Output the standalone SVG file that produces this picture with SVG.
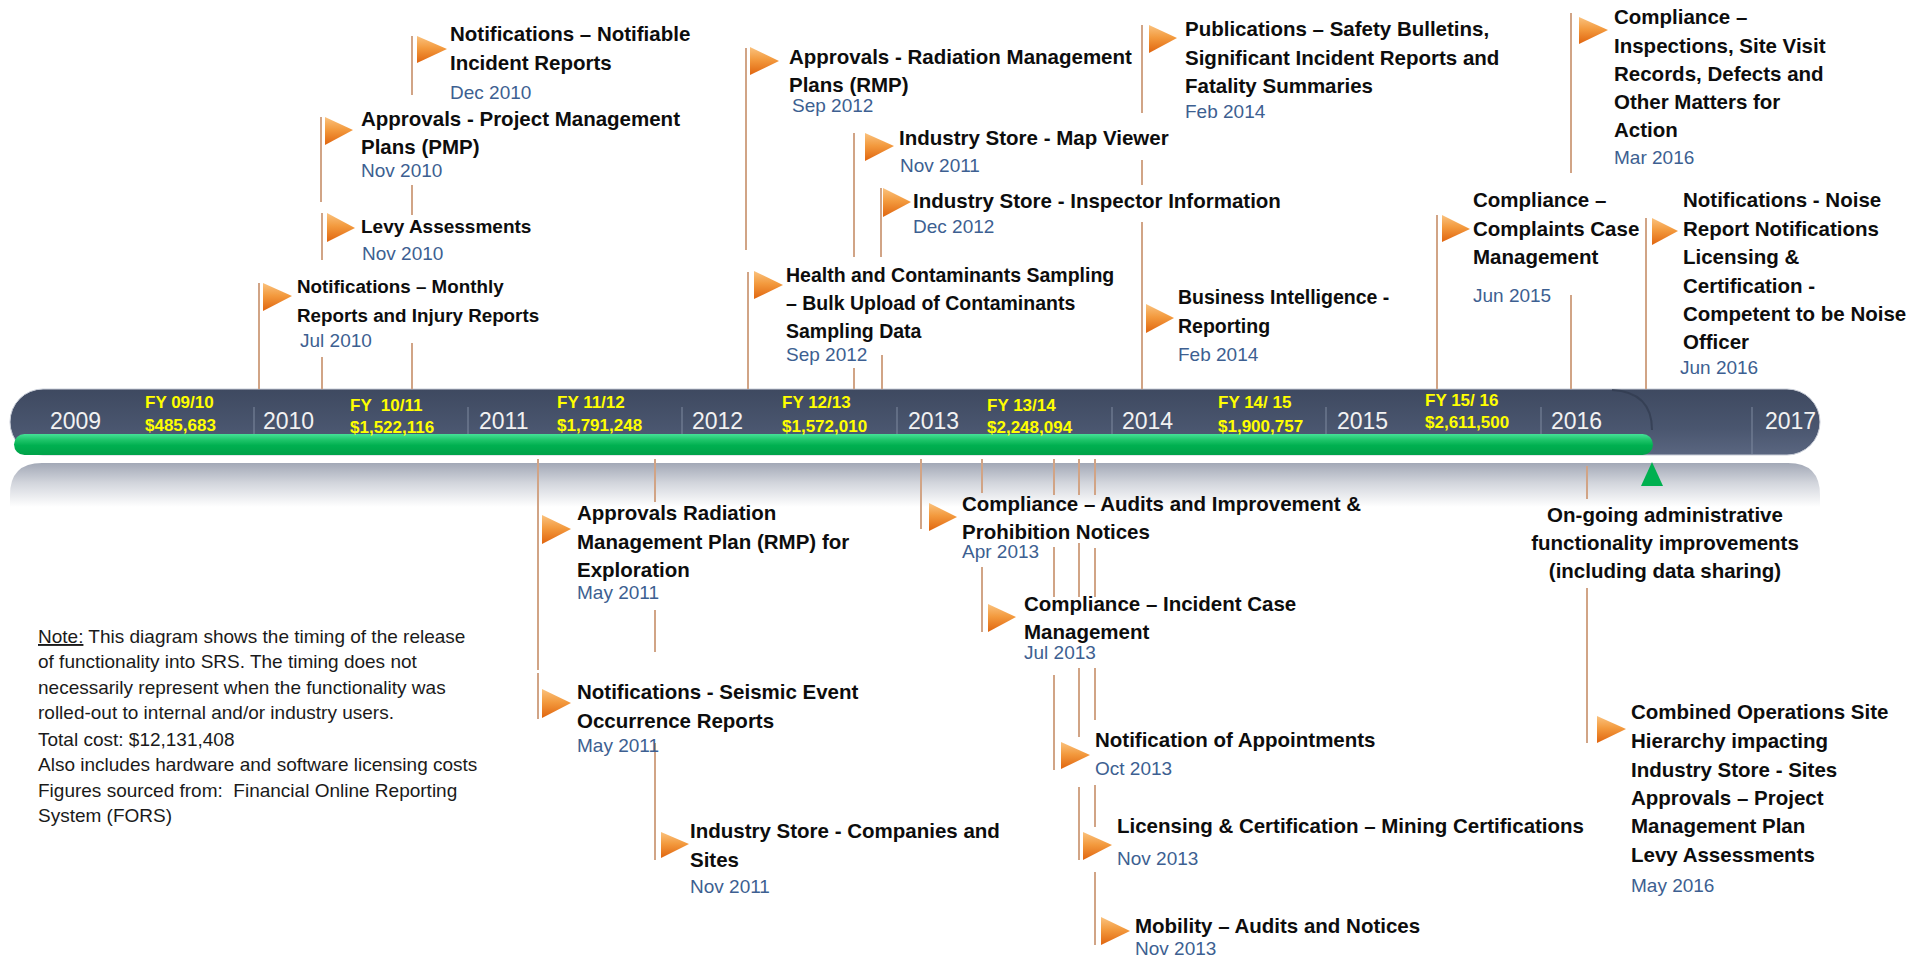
<svg xmlns="http://www.w3.org/2000/svg" width="1928" height="958" viewBox="0 0 1928 958">
<style>
.lbl{font-family:"Liberation Sans",Arial,sans-serif;font-weight:bold;font-size:20.5px;fill:#0D0D0D}
.dt{font-family:"Liberation Sans",Arial,sans-serif;font-size:19px;fill:#3D5F91}
.yr{font-family:"Liberation Sans",Arial,sans-serif;font-size:23px;fill:#F2F2F2}
.fy{font-family:"Liberation Sans",Arial,sans-serif;font-weight:bold;font-size:17px;fill:#FFFF00}
.note{font-family:"Liberation Sans",Arial,sans-serif;font-size:19px;fill:#1A1A1A}
.pole{stroke:#D1A486;stroke-width:2;fill:none}
.div{stroke:#7F8AA0;stroke-width:1}
.flag{fill:url(#flagG)}
</style>
<defs>
<linearGradient id="barG" x1="0" y1="0" x2="0" y2="1"><stop offset="0" stop-color="#3E4960"/><stop offset="0.6" stop-color="#4A566F"/><stop offset="1" stop-color="#5A6680"/></linearGradient>
<linearGradient id="greenG" x1="0" y1="0" x2="0" y2="1"><stop offset="0" stop-color="#45E297"/><stop offset="0.3" stop-color="#1CC368"/><stop offset="0.55" stop-color="#00B050"/><stop offset="1" stop-color="#00A249"/></linearGradient>
<linearGradient id="reflG" x1="0" y1="0" x2="0" y2="1"><stop offset="0" stop-color="#A2A8B6"/><stop offset="0.45" stop-color="#D2D5DC"/><stop offset="1" stop-color="#FFFFFF"/></linearGradient>
<linearGradient id="flagG" x1="0" y1="0" x2="0" y2="1"><stop offset="0" stop-color="#FAC27E"/><stop offset="0.45" stop-color="#F39A3E"/><stop offset="1" stop-color="#E0650F"/></linearGradient>
</defs>
<rect width="1928" height="958" fill="#FFFFFF"/>

<g id="timeline">
<path d="M10,507 V495 Q10,463 42,463 H1788 Q1820,463 1820,495 V507 Z" fill="url(#reflG)"/>
<rect x="10" y="389" width="1810" height="66" rx="33" fill="url(#barG)" stroke="#C9CED8" stroke-width="1"/>
<path d="M1612,390 Q1652,392 1652,430" fill="none" stroke="#313B4F" stroke-width="2" opacity="0.7"/>
<line class="div" x1="254" y1="407" x2="254" y2="454"/>
<line class="div" x1="468" y1="407" x2="468" y2="454"/>
<line class="div" x1="682" y1="407" x2="682" y2="454"/>
<line class="div" x1="897" y1="407" x2="897" y2="454"/>
<line class="div" x1="1112" y1="407" x2="1112" y2="454"/>
<line class="div" x1="1326" y1="407" x2="1326" y2="454"/>
<line class="div" x1="1541" y1="407" x2="1541" y2="454"/>
<line class="div" x1="1752" y1="407" x2="1752" y2="454"/>
<rect x="14" y="434" width="1639" height="21" rx="10.5" fill="url(#greenG)"/>
<polygon points="1641,486 1652,462 1663,486" fill="#00B050"/>
<text class="yr" x="50" y="429">2009</text>
<text class="yr" x="263" y="429">2010</text>
<text class="yr" x="479" y="429">2011</text>
<text class="yr" x="692" y="429">2012</text>
<text class="yr" x="908" y="429">2013</text>
<text class="yr" x="1122" y="429">2014</text>
<text class="yr" x="1337" y="429">2015</text>
<text class="yr" x="1551" y="429">2016</text>
<text class="yr" x="1765" y="429">2017</text>
<text class="fy" x="145" y="408">FY 09/10</text>
<text class="fy" x="145" y="431">$485,683</text>
<text class="fy" x="350" y="411" xml:space="preserve">FY  10/11</text>
<text class="fy" x="350" y="433">$1,522,116</text>
<text class="fy" x="557" y="408">FY 11/12</text>
<text class="fy" x="557" y="431">$1,791,248</text>
<text class="fy" x="782" y="408">FY 12/13</text>
<text class="fy" x="782" y="432">$1,572,010</text>
<text class="fy" x="987" y="411">FY 13/14</text>
<text class="fy" x="987" y="433">$2,248,094</text>
<text class="fy" x="1218" y="408">FY 14/ 15</text>
<text class="fy" x="1218" y="432">$1,900,757</text>
<text class="fy" x="1425" y="406">FY 15/ 16</text>
<text class="fy" x="1425" y="428">$2,611,500</text>
</g>

<g id="connectors" class="pole">
<path d="M259,283V389"/>
<path d="M321,117V202 M322,213V260 M322,357V389"/>
<path d="M412,36V95 M412,185V215 M412,343V389"/>
<path d="M746,48V250"/>
<path d="M748,272V389"/>
<path d="M854,133V257 M854,368V389"/>
<path d="M881,188V257 M882,355V389"/>
<path d="M1142,25V113 M1142,160V185 M1142,222V389"/>
<path d="M1437,215V389"/>
<path d="M1571,13V173 M1571,295V389"/>
<path d="M1646,218V389"/>
<path d="M538,459V670 M538,673V719"/>
<path d="M655,459V502 M655,610V652 M655,743V860"/>
<path d="M921,459V529"/>
<path d="M982,459V493 M982,567V632"/>
<path d="M1054,459V495 M1054,547V597 M1054,675V770"/>
<path d="M1079,459V495 M1079,543V597 M1079,668V737 M1079,787V860"/>
<path d="M1095,459V495 M1095,548V597 M1095,668V720 M1095,785V827 M1095,872V945"/>
<path d="M1587,466V499 M1587,588V743"/>
</g>

<g id="n-notifiable">
<polygon class="flag" points="417,36 447,49 417,63"/>
<text class="lbl" x="450" y="41">Notifications – Notifiable</text>
<text class="lbl" x="450" y="70">Incident Reports</text>
<text class="dt" x="450" y="99">Dec 2010</text>
</g>
<g id="n-pmp">
<polygon class="flag" points="325,117 353,130 325,145"/>
<text class="lbl" x="361" y="126">Approvals - Project Management</text>
<text class="lbl" x="361" y="154">Plans (PMP)</text>
<text class="dt" x="361" y="177">Nov 2010</text>
</g>
<g id="n-levy">
<polygon class="flag" points="327,213 355,228 327,242"/>
<text class="lbl" x="361" y="233" style="font-size:19px">Levy Assessments</text>
<text class="dt" x="362" y="260">Nov 2010</text>
</g>
<g id="n-monthly">
<polygon class="flag" points="263,283 292,296 263,311"/>
<text class="lbl" x="297" y="293" style="font-size:18.8px">Notifications – Monthly</text>
<text class="lbl" x="297" y="322" style="font-size:18.8px">Reports and Injury Reports</text>
<text class="dt" x="300" y="347">Jul 2010</text>
</g>
<g id="n-rmp">
<polygon class="flag" points="750,47 779,61 750,75"/>
<text class="lbl" x="789" y="64">Approvals - Radiation Management</text>
<text class="lbl" x="789" y="92">Plans (RMP)</text>
<text class="dt" x="792" y="112">Sep 2012</text>
</g>
<g id="n-mapviewer">
<polygon class="flag" points="865,133 894,146 865,161"/>
<text class="lbl" x="899" y="145">Industry Store - Map Viewer</text>
<text class="dt" x="900" y="172">Nov 2011</text>
</g>
<g id="n-inspector">
<polygon class="flag" points="883,188 911,202 883,217"/>
<text class="lbl" x="913" y="208">Industry Store - Inspector Information</text>
<text class="dt" x="913" y="233">Dec 2012</text>
</g>
<g id="n-health">
<polygon class="flag" points="754,271 783,285 754,299"/>
<text class="lbl" x="786" y="282" style="font-size:19.5px">Health and Contaminants Sampling</text>
<text class="lbl" x="786" y="310" style="font-size:19.5px">– Bulk Upload of Contaminants</text>
<text class="lbl" x="786" y="338" style="font-size:19.5px">Sampling Data</text>
<text class="dt" x="786" y="361">Sep 2012</text>
</g>
<g id="n-publications">
<polygon class="flag" points="1149,25 1177,38 1149,53"/>
<text class="lbl" x="1185" y="36">Publications – Safety Bulletins,</text>
<text class="lbl" x="1185" y="65">Significant Incident Reports and</text>
<text class="lbl" x="1185" y="93">Fatality Summaries</text>
<text class="dt" x="1185" y="118">Feb 2014</text>
</g>
<g id="n-bi">
<polygon class="flag" points="1146,304 1174,318 1146,333"/>
<text class="lbl" x="1178" y="304" style="font-size:19.5px">Business Intelligence -</text>
<text class="lbl" x="1178" y="333" style="font-size:19.5px">Reporting</text>
<text class="dt" x="1178" y="361">Feb 2014</text>
</g>
<g id="n-complaints">
<polygon class="flag" points="1442,215 1470,229 1442,242"/>
<text class="lbl" x="1473" y="207">Compliance –</text>
<text class="lbl" x="1473" y="236">Complaints Case</text>
<text class="lbl" x="1473" y="264">Management</text>
<text class="dt" x="1473" y="302">Jun 2015</text>
</g>
<g id="n-inspections">
<polygon class="flag" points="1579,17 1608,30 1579,44"/>
<text class="lbl" x="1614" y="24">Compliance –</text>
<text class="lbl" x="1614" y="53">Inspections, Site Visit</text>
<text class="lbl" x="1614" y="81">Records, Defects and</text>
<text class="lbl" x="1614" y="109">Other Matters for</text>
<text class="lbl" x="1614" y="137">Action</text>
<text class="dt" x="1614" y="164">Mar 2016</text>
</g>
<g id="n-noise">
<polygon class="flag" points="1652,218 1678,231 1652,245"/>
<text class="lbl" x="1683" y="207">Notifications - Noise</text>
<text class="lbl" x="1683" y="236">Report Notifications</text>
<text class="lbl" x="1683" y="264">Licensing &amp;</text>
<text class="lbl" x="1683" y="293">Certification -</text>
<text class="lbl" x="1683" y="321">Competent to be Noise</text>
<text class="lbl" x="1683" y="349">Officer</text>
<text class="dt" x="1680" y="374">Jun 2016</text>
</g>

<g id="n-rmp-exploration">
<polygon class="flag" points="542,515 571,529 542,544"/>
<text class="lbl" x="577" y="520">Approvals Radiation</text>
<text class="lbl" x="577" y="549">Management Plan (RMP) for</text>
<text class="lbl" x="577" y="577">Exploration</text>
<text class="dt" x="577" y="599">May 2011</text>
</g>
<g id="n-seismic">
<polygon class="flag" points="542,689 571,703 542,718"/>
<text class="lbl" x="577" y="699">Notifications - Seismic Event</text>
<text class="lbl" x="577" y="728">Occurrence Reports</text>
<text class="dt" x="577" y="752">May 2011</text>
</g>
<g id="n-companies">
<polygon class="flag" points="661,832 689,844 661,858"/>
<text class="lbl" x="690" y="838">Industry Store - Companies and</text>
<text class="lbl" x="690" y="867">Sites</text>
<text class="dt" x="690" y="893">Nov 2011</text>
</g>
<g id="n-audits">
<polygon class="flag" points="929,503 957,517 929,531"/>
<text class="lbl" x="962" y="511">Compliance – Audits and Improvement &amp;</text>
<text class="lbl" x="962" y="539">Prohibition Notices</text>
<text class="dt" x="962" y="558">Apr 2013</text>
</g>
<g id="n-incident">
<polygon class="flag" points="988,604 1016,617 988,632"/>
<text class="lbl" x="1024" y="611">Compliance – Incident Case</text>
<text class="lbl" x="1024" y="639">Management</text>
<text class="dt" x="1024" y="659">Jul 2013</text>
</g>
<g id="n-appointments">
<polygon class="flag" points="1061,742 1090,755 1061,769"/>
<text class="lbl" x="1095" y="747">Notification of Appointments</text>
<text class="dt" x="1095" y="775">Oct 2013</text>
</g>
<g id="n-licensing">
<polygon class="flag" points="1083,832 1112,845 1083,860"/>
<text class="lbl" x="1117" y="833">Licensing &amp; Certification – Mining Certifications</text>
<text class="dt" x="1117" y="865">Nov 2013</text>
</g>
<g id="n-mobility">
<polygon class="flag" points="1101,917 1130,931 1101,945"/>
<text class="lbl" x="1135" y="933">Mobility – Audits and Notices</text>
<text class="dt" x="1135" y="955">Nov 2013</text>
</g>
<g id="n-ongoing">
<text class="lbl" x="1665" y="522" text-anchor="middle">On-going administrative</text>
<text class="lbl" x="1665" y="550" text-anchor="middle">functionality improvements</text>
<text class="lbl" x="1665" y="578" text-anchor="middle">(including data sharing)</text>
</g>
<g id="n-combined">
<polygon class="flag" points="1597,716 1626,729 1597,743"/>
<text class="lbl" x="1631" y="719">Combined Operations Site</text>
<text class="lbl" x="1631" y="748">Hierarchy impacting</text>
<text class="lbl" x="1631" y="777">Industry Store - Sites</text>
<text class="lbl" x="1631" y="805">Approvals – Project</text>
<text class="lbl" x="1631" y="833">Management Plan</text>
<text class="lbl" x="1631" y="862">Levy Assessments</text>
<text class="dt" x="1631" y="892">May 2016</text>
</g>

<g id="note">
<text class="note" x="38" y="643"><tspan text-decoration="underline">Note:</tspan> This diagram shows the timing of the release</text>
<text class="note" x="38" y="668">of functionality into SRS. The timing does not</text>
<text class="note" x="38" y="694">necessarily represent when the functionality was</text>
<text class="note" x="38" y="719">rolled-out to internal and/or industry users.</text>
<text class="note" x="38" y="746">Total cost: $12,131,408</text>
<text class="note" x="38" y="771">Also includes hardware and software licensing costs</text>
<text class="note" x="38" y="797" xml:space="preserve">Figures sourced from:  Financial Online Reporting</text>
<text class="note" x="38" y="822">System (FORS)</text>
</g>
</svg>
